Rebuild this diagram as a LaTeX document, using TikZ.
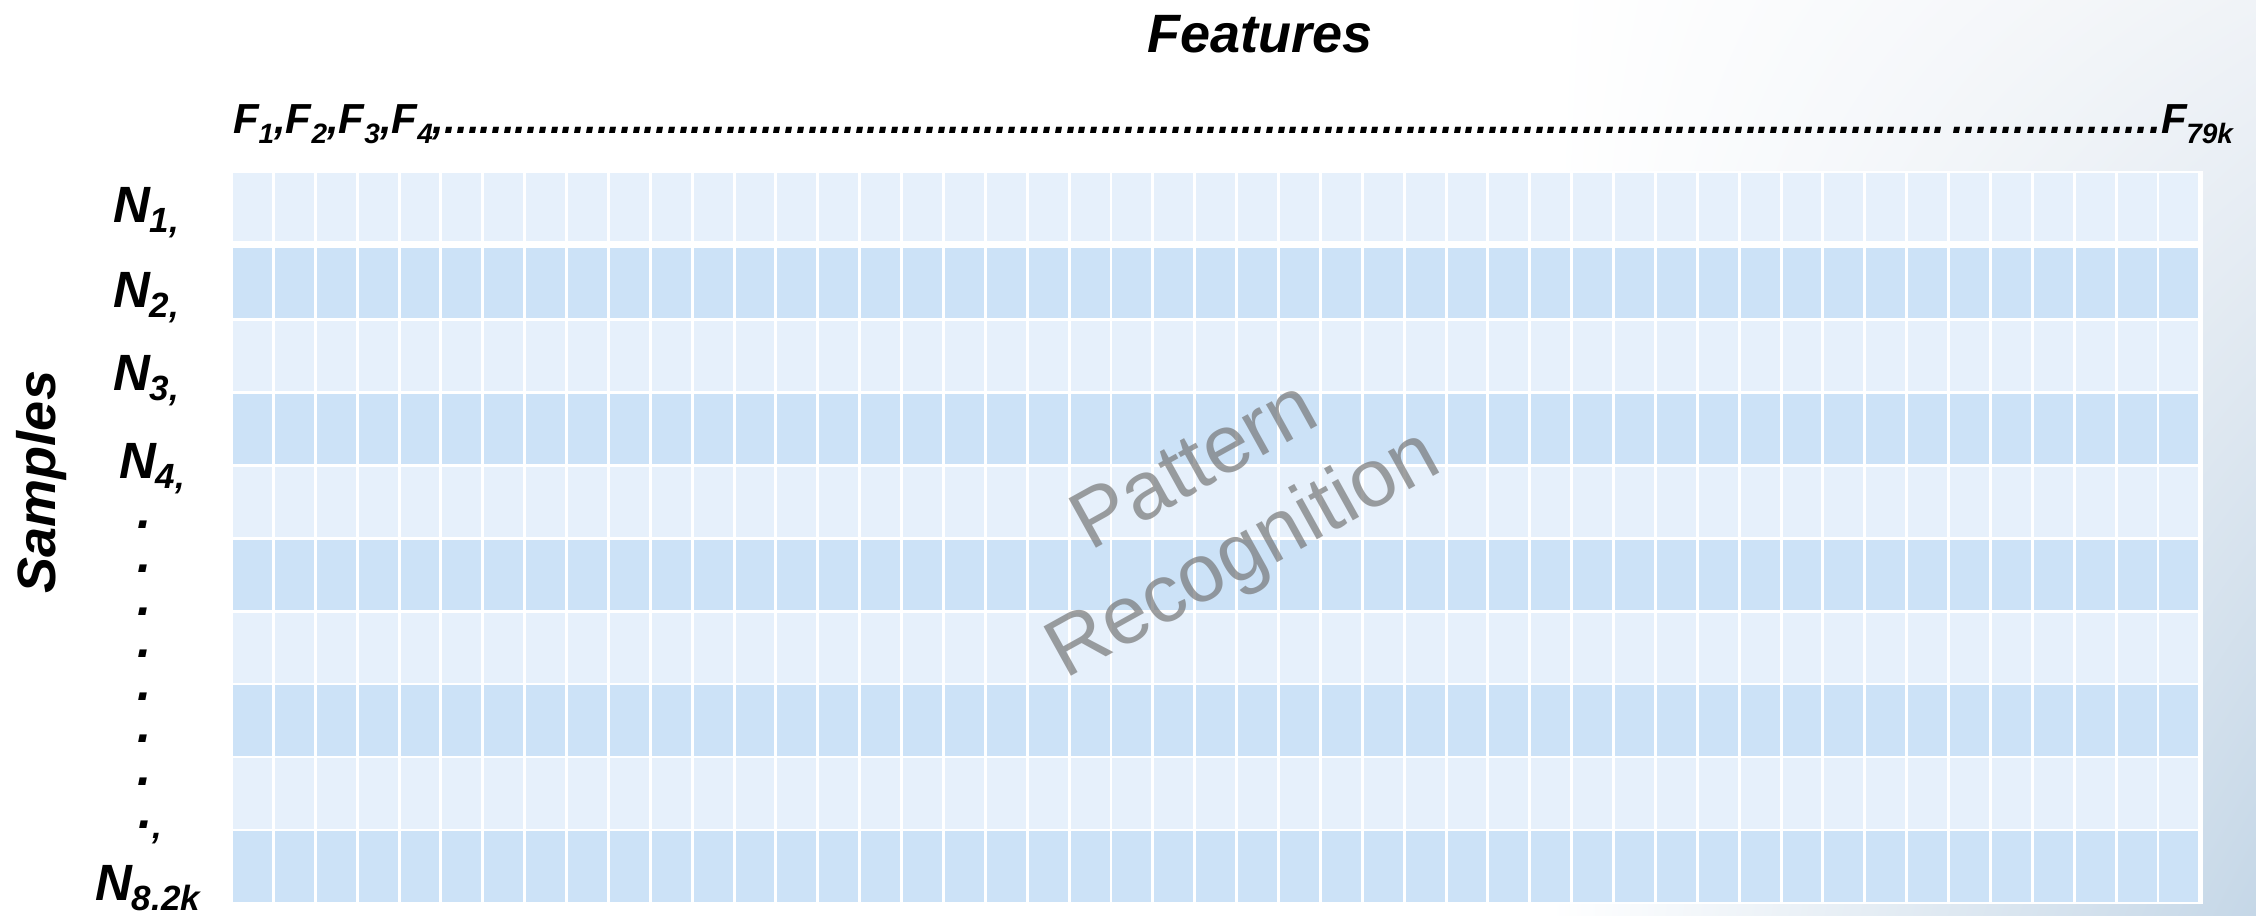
\documentclass[tikz,border=0pt]{standalone}
\usepackage{fontspec}
\setmainfont{Liberation Sans}
\usetikzlibrary{shadings}

\definecolor{cellLight}{HTML}{E6F0FB}
\definecolor{cellDark}{HTML}{CCE2F7}
\definecolor{bgTR}{HTML}{F0F3F7}
\definecolor{bgBR}{HTML}{C5D7E7}

% subscripts for the sample and feature labels
\newcommand\nsub[1]{\raisebox{-5pt}{\fontsize{17.5}{17.5}\selectfont #1}}
\newcommand\fsub[1]{\raisebox{-5pt}{\fontsize{14}{14}\selectfont #1}}

\tikzset{
  title/.style={inner sep=0pt, outer sep=0pt, font=\bfseries\itshape\fontsize{27}{27}\selectfont},
  flabel/.style={inner sep=0pt, outer sep=0pt, anchor=base west, font=\bfseries\itshape\fontsize{21}{21}\selectfont},
  nlabel/.style={inner sep=0pt, outer sep=0pt, anchor=base west, font=\bfseries\itshape\fontsize{25.5}{25.5}\selectfont},
  mark text/.style={inner sep=0pt, outer sep=0pt, anchor=center, rotate=29, align=center,
    font=\fontsize{41}{50}\selectfont, text=black!55, text opacity=0.68},
}

\begin{document}
\begin{tikzpicture}[x=0.5pt, y=-0.5pt]
  \useasboundingbox (0,0) rectangle (2256,916);
  % page background with a soft blue tint towards the lower right
  \fill[white] (0,0) rectangle (2256,916);
  \shade[upper left=white, lower left=white, upper right=bgTR, lower right=bgBR]
    (1550,0) rectangle (2256,916);

  % data matrix: 10 sample rows x 47 feature columns
  \fill[white] (230.5,170.5) rectangle (2202.5,903.5);
  \foreach \r in {1,...,10}{
    \pgfmathsetmacro\rowtop{\r==1 ? 173 : 248+72.9*(\r-2)}
    \pgfmathsetmacro\rowh{\r==1 ? 67.5 : 70.3}
    \ifodd\r \def\rc{cellLight}\else\def\rc{cellDark}\fi
    \foreach \c in {0,...,46}{
      \fill[\rc] ({233+41.88*\c},\rowtop) rectangle ++(38.9,\rowh);
    }
  }

  % axis titles
  \node[title, anchor=base] (features) at (1260,52) {Features};
  \node[title, anchor=base, rotate=90] (samples) at (55,482) {Samples};

  % feature labels
  \node[flabel] (flist) at (233,133) {\hbox to 1000pt{F\fsub{1},F\fsub{2},F\fsub{3},F\fsub{4},\xleaders\hbox{.}\hfill\hskip 3pt\xleaders\hbox{.}\hskip 105pt F\fsub{79k}}};

  % sample labels
  \node[nlabel] (n1) at (113,222) {N\nsub{1,}};
  \node[nlabel] (n2) at (113,307) {N\nsub{2,}};
  \node[nlabel] (n3) at (113,390) {N\nsub{3,}};
  \node[nlabel] (n4) at (119,478) {N\nsub{4,}};
  \foreach \y [count=\i] in {528,572,615,657,700,742,785}{
    \node[nlabel] (d\i) at (137,\y) {.};
  }
  \node[nlabel] (d8) at (138,828) {.\nsub{,}};
  \node[nlabel] (nlast) at (95,900) {N\nsub{8.2k}};

  % watermark
  \node[mark text] (watermark) at (1221,514) {Pattern\\Recognition};
\end{tikzpicture}
\end{document}
